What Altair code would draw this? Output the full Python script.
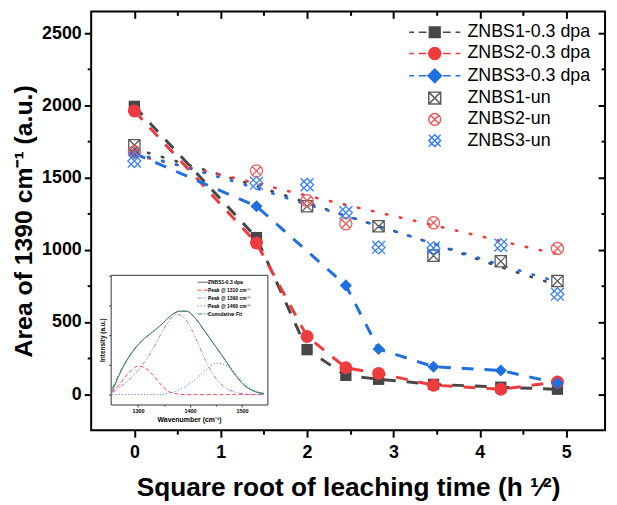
import altair as alt
import pandas as pd

# ---------------- main data ----------------
x_vals = [0, 1.414, 2.0, 2.449, 2.828, 3.464, 4.243, 4.899]

znbs1_dpa = [1993, 1084, 308, 130, 103, 68, 48, 34]
znbs2_dpa = [1961, 1046, 399, 183, 144, 62, 34, 84]
znbs3_dpa = [1667, 1301, None, 753, 313, 190, 164, 75]
znbs1_un = [1724, None, 1301, None, 1162, 959, 920, 783]
znbs2_un = [1678, 1546, 1340, 1180, None, 1187, None, 1009]
znbs3_un = [1614, 1461, 1450, 1256, 1016, 1012, 1032, 692]

# dotted trend curves of the unirradiated samples
trend1_un = [1700, 1440, 1325, 1235, 1163, 1041, 880, 755]
trend2_un = [1655, 1460, 1374, 1311, 1258, 1170, 1060, 970]
trend3_un = [1670, 1425, 1313, 1236, 1163, 1043, 895, 778]

legend_names = ["ZNBS1-0.3 dpa", "ZNBS2-0.3 dpa", "ZNBS3-0.3 dpa",
                "ZNBS1-un", "ZNBS2-un", "ZNBS3-un"]

x_ticks = [0, 0.5, 1, 1.5, 2, 2.5, 3, 3.5, 4, 4.5, 5]
y_ticks = [0, 250, 500, 750, 1000, 1250, 1500, 1750, 2000, 2250, 2500]
x_major = [0, 1, 2, 3, 4, 5]
x_minor = [0.5, 1.5, 2.5, 3.5, 4.5]
y_major = [0, 500, 1000, 1500, 2000, 2500]
y_minor = [250, 750, 1250, 1750, 2250]

# ---------------- inset data ----------------
inset_names = ["ZNBS1-0.3 dpa", "Peak @ 1310 cm\u207b\u00b9", "Peak @ 1390 cm\u207b\u00b9",
               "Peak @ 1460 cm\u207b\u00b9", "Cumulative Fit"]
wn_dpa = [1250.5, 1269.5, 1288.6, 1307.6, 1326.7, 1345.7, 1361.6, 1380.6, 1393.3,
          1409.2, 1428.3, 1447.3, 1466.4, 1485.4, 1504.5, 1523.5, 1542.6]
int_dpa = [0.11, 0.87, 1.42, 1.81, 2.09, 2.37, 2.64, 2.81, 2.81,
           2.59, 2.14, 1.67, 1.20, 0.70, 0.31, 0.11, 0.03]
int_fit = [0.20, 0.90, 1.44, 1.82, 2.09, 2.37, 2.63, 2.80, 2.80,
           2.58, 2.13, 1.66, 1.19, 0.70, 0.32, 0.12, 0.04]
wn_p1310 = [1250.5, 1263.2, 1275.9, 1288.6, 1300, 1310.8, 1326.7, 1342.5, 1358.4, 1374.3, 1390.2, 1542.6]
int_p1310 = [0.09, 0.31, 0.62, 0.84, 0.96, 0.92, 0.70, 0.37, 0.11, 0.03, 0, 0]
wn_p1390 = [1250.5, 1269.5, 1288.6, 1307.6, 1326.7, 1345.7, 1361.6, 1374.3, 1387,
            1402.9, 1418.7, 1434.6, 1450.5, 1466.4, 1485.4, 1510.8, 1542.6]
int_p1390 = [0.07, 0.31, 0.59, 0.98, 1.48, 2.09, 2.53, 2.70, 2.62,
             2.20, 1.59, 0.98, 0.53, 0.26, 0.09, 0.02, 0]
wn_p1460 = [1250.5, 1339.4, 1364.8, 1390.2, 1415.6, 1434.6, 1450.5, 1463.2, 1479,
            1498.1, 1517.2, 1536.2, 1542.6]
int_p1460 = [0, 0, 0.07, 0.26, 0.59, 0.89, 1.06, 1.03, 0.87, 0.51, 0.20, 0.06, 0.03]
inset_x_ticks = [1300, 1350, 1400, 1450, 1500]
inset_y_ticks = [0, 1, 2, 3, 4]

# ---------------- styling ----------------
FONT = "Liberation Sans"
W, H = 519, 423
XDOM = [-0.5, 5.45]
YDOM = [-250, 2650]
GREY, RED, BLUE = "#474747", "#EF3A3E", "#1F6FDF"
GREY_U, RED_U, BLUE_U = "#5a5a5a", "#F05A5A", "#3A80EE"

BOXX = "M-1,-1H1V1H-1Z M-1,-1L1,1 M-1,1L1,-1"
CIRX = "M-1,0A1,1 0 1,1 1,0A1,1 0 1,1 -1,0Z M-0.71,-0.71L0.71,0.71 M-0.71,0.71L0.71,-0.71"
LATX = "M-1,-1L1,1 M-1,1L1,-1 M-1,0L0,-1L1,0L0,1Z"
DASHES = "M-4.3,0H-3.5 M-2.7,0H-1.4 M1.4,0H2.7 M3.5,0H4.3 "
SQ_LEG = DASHES + "M-0.9,-0.9H0.9V0.9H-0.9Z"
CI_LEG = DASHES + "M-1,0A1,1 0 1,1 1,0A1,1 0 1,1 -1,0Z"
DI_LEG = DASHES + "M0,-1.15L1.15,0L0,1.15L-1.15,0Z"

xscale = alt.Scale(domain=XDOM, nice=False, zero=False)
yscale = alt.Scale(domain=YDOM, nice=False, zero=False)

x_axis = alt.Axis(orient="bottom", values=x_ticks, format="~g",
                  labelExpr="datum.value % 1 ? '' : datum.label",
                  tickSize={"condition": {"test": "datum.value % 1", "value": 4}, "value": 7},
                  tickWidth=2, tickColor="black", domain=False, grid=False, labelFlush=False,
                  labelFont=FONT, labelFontSize=18, labelFontWeight="bold", labelColor="black",
                  labelPadding=7,
                  title="Square root of leaching time (h \u00b9\u2044\u00b2)", titleFont=FONT,
                  titleFontSize=26.5, titleFontWeight="bold", titleColor="black", titlePadding=13)
y_axis = alt.Axis(orient="left", values=y_ticks, format="d",
                  labelExpr="datum.value % 500 ? '' : datum.label",
                  tickSize={"condition": {"test": "datum.value % 500", "value": 4}, "value": 7},
                  tickWidth=2, tickColor="black", domain=False, grid=False, labelFlush=False,
                  labelFont=FONT, labelFontSize=18, labelFontWeight="bold", labelColor="black",
                  labelPadding=3,
                  title="Area of 1390 cm\u207b\u00b9 (a.u.)", titleFont=FONT, titleFontSize=25,
                  titleFontWeight="bold", titleColor="black", titlePadding=5)
# mirror axes on top / right with ticks pointing inwards (shifted in by their own length)
x_top_major = alt.Axis(orient="top", values=x_major, labels=False, offset=-7, tickSize=7,
                       tickWidth=2, tickColor="black", domain=False, grid=False, title=None)
y_right_major = alt.Axis(orient="right", values=y_major, labels=False, offset=-7, tickSize=7,
                         tickWidth=2, tickColor="black", domain=False, grid=False, title=None)
x_top_minor = alt.Axis(orient="top", values=x_minor, labels=False, offset=-4, tickSize=4,
                       tickWidth=2, tickColor="black", domain=False, grid=False, title=None)
y_right_minor = alt.Axis(orient="right", values=y_minor, labels=False, offset=-4, tickSize=4,
                         tickWidth=2, tickColor="black", domain=False, grid=False, title=None)


def sdf(xs, ys):
    pairs = [(a, b) for a, b in zip(xs, ys) if b is not None]
    return pd.DataFrame({"x": [p[0] for p in pairs], "y": [p[1] for p in pairs]})


def enc(ch, xa=x_axis, ya=y_axis):
    return ch.encode(x=alt.X("x:Q", scale=xscale, axis=xa),
                     y=alt.Y("y:Q", scale=yscale, axis=ya))


layers = []
# dotted trend lines
for ys, col in [(trend1_un, GREY), (trend2_un, RED), (trend3_un, BLUE)]:
    layers.append(enc(alt.Chart(sdf(x_vals, ys)).mark_line(
        color=col, strokeWidth=2.6, strokeDash=[1.5, 13], strokeCap="round",
        interpolate="monotone")))
# dashed lines
for ys, col in [(znbs1_dpa, GREY), (znbs2_dpa, RED), (znbs3_dpa, BLUE)]:
    layers.append(enc(alt.Chart(sdf(x_vals, ys)).mark_line(
        color=col, strokeWidth=3, strokeDash=[12, 11], interpolate="linear")))
# filled markers
for ys, col, shp, sz in [(znbs1_dpa, GREY, "square", 130), (znbs2_dpa, RED, "circle", 170),
                         (znbs3_dpa, BLUE, "diamond", 150)]:
    layers.append(enc(alt.Chart(sdf(x_vals, ys)).mark_point(
        shape=shp, size=sz, filled=True, color=col, opacity=1)))
# open markers (grey)
layers.append(enc(alt.Chart(sdf(x_vals, znbs1_un)).mark_point(
    shape=BOXX, size=130, filled=False, color=GREY_U, strokeWidth=1.3, opacity=1)))

# legend (drawn from the scales only)
leg_df = pd.DataFrame({"label": legend_names})
legend_cfg = alt.Legend(orient="none", legendX=338, legendY=12, title=None,
                        labelFont=FONT, labelFontSize=18, labelColor="black",
                        symbolSize=144, symbolStrokeWidth=1.5, labelOffset=24,
                        rowPadding=3.5, padding=0, symbolOpacity=1)
legend_layer = alt.Chart(leg_df).mark_point(opacity=1).encode(
    stroke=alt.Stroke("label:N", scale=alt.Scale(domain=legend_names,
                      range=[GREY, RED, BLUE, GREY_U, RED_U, BLUE_U]), legend=legend_cfg),
    fill=alt.Fill("label:N", scale=alt.Scale(domain=legend_names,
                  range=[GREY, RED, BLUE, "transparent", "transparent", "transparent"]),
                  legend=legend_cfg),
    shape=alt.Shape("label:N", scale=alt.Scale(domain=legend_names,
                    range=[SQ_LEG, CI_LEG, DI_LEG, BOXX, CIRX, LATX]), legend=legend_cfg),
).transform_filter("false")
layers.append(legend_layer)

main_content = alt.layer(*layers)

mirror_minor = enc(alt.Chart(sdf(x_vals, znbs2_un)).mark_point(
    shape=CIRX, size=150, filled=False, color=RED_U, strokeWidth=1.3, opacity=1),
    xa=x_top_minor, ya=y_right_minor)
mirror_major = enc(alt.Chart(sdf(x_vals, znbs3_un)).mark_point(
    shape=LATX, size=170, filled=False, color=BLUE_U, strokeWidth=1.3, opacity=1),
    xa=x_top_major, ya=y_right_major)

# ---------------- inset ----------------
IX0, IX1 = 19.7, 178
IY0, IY1 = 397, 266
ixscale = alt.Scale(domain=[1247.3, 1548.9], range=[IX0, IX1], nice=False, zero=False)
iyscale = alt.Scale(domain=[-0.333, 4.033], range=[IY0, IY1], nice=False, zero=False)

rows = []
for name, wns, vals in [(inset_names[0], wn_dpa, int_dpa), (inset_names[1], wn_p1310, int_p1310),
                        (inset_names[2], wn_p1390, int_p1390), (inset_names[3], wn_p1460, int_p1460),
                        (inset_names[4], wn_dpa, int_fit)]:
    for a, b in zip(wns, vals):
        rows.append({"curve": name, "wn": a, "val": b})
inset_df = pd.DataFrame(rows)

inset_legend = alt.Legend(orient="none", legendX=111, legendY=271, title=None,
                          labelFont=FONT, labelFontSize=5, labelFontWeight="bold",
                          labelColor="black", symbolType="M-3,0H3", symbolSize=16,
                          symbolStrokeWidth=1, labelOffset=2, rowPadding=2, padding=0)
icolor = alt.Color("curve:N", scale=alt.Scale(domain=inset_names,
                   range=["#4a4a4a", "#F04848", "#B070F0", "#2F6FE8", "#2E9A5A"]),
                   legend=inset_legend)
idash = alt.StrokeDash("curve:N", scale=alt.Scale(domain=inset_names,
                       range=[[1, 0], [4, 2.5], [4, 1.5, 1, 1.5, 1, 1.5], [1, 2.2], [5, 1.5, 1, 1.5]]),
                       legend=inset_legend)

ix_axis = alt.Axis(orient="bottom", offset=IY0 - H, values=inset_x_ticks, format="d",
                   labelExpr="datum.value % 100 ? '' : datum.label",
                   tickSize={"condition": {"test": "datum.value % 100", "value": 1.5}, "value": 2.5},
                   tickWidth=1, tickColor="#333333", domainColor="#333333", domainWidth=1,
                   grid=False, labelFlush=False, labelFont=FONT, labelFontSize=5.5,
                   labelFontWeight="bold", labelColor="black", labelPadding=1.5,
                   title="Wavenumber (cm\u207b\u00b9)", titleFont=FONT, titleFontSize=7,
                   titleFontWeight="bold", titleColor="black", titlePadding=2)
iy_axis = alt.Axis(orient="left", offset=-IX0, values=inset_y_ticks, labels=False,
                   tickSize=2, tickWidth=1, tickColor="#333333", domainColor="#333333",
                   domainWidth=1, grid=False,
                   title="Intensity (a.u.)", titleFont=FONT, titleFontSize=6.5,
                   titleFontWeight="bold", titleColor="black", titlePadding=3)
ix_axis_top = alt.Axis(orient="top", offset=-IY1, ticks=False, labels=False, grid=False,
                       domainColor="#333333", domainWidth=1, title=None)
iy_axis_right = alt.Axis(orient="right", offset=IX1 - W, ticks=False, labels=False, grid=False,
                         domainColor="#333333", domainWidth=1, title=None)

inset_content = alt.Chart(inset_df).transform_filter(
    alt.datum.curve != "Cumulative Fit").mark_line(strokeWidth=1, interpolate="monotone").encode(
    x=alt.X("wn:Q", scale=ixscale, axis=ix_axis),
    y=alt.Y("val:Q", scale=iyscale, axis=iy_axis),
    color=icolor, strokeDash=idash, detail="curve:N")
inset_mirror = alt.Chart(inset_df).transform_filter(
    alt.datum.curve == "Cumulative Fit").mark_line(strokeWidth=1, interpolate="monotone").encode(
    x=alt.X("wn:Q", scale=ixscale, axis=ix_axis_top),
    y=alt.Y("val:Q", scale=iyscale, axis=iy_axis_right),
    color=icolor, strokeDash=idash)

chart = alt.layer(main_content, mirror_minor, mirror_major, inset_content, inset_mirror).resolve_scale(
    x="independent", y="independent"
).properties(
    width=W, height=H,
    autosize=alt.AutoSizeParams(type="none"),
    padding={"left": 84, "top": 1, "right": 4, "bottom": 70},
).configure_view(stroke="black", strokeWidth=2)

chart.save("out.html", embed_options={"renderer": "svg", "actions": False})
